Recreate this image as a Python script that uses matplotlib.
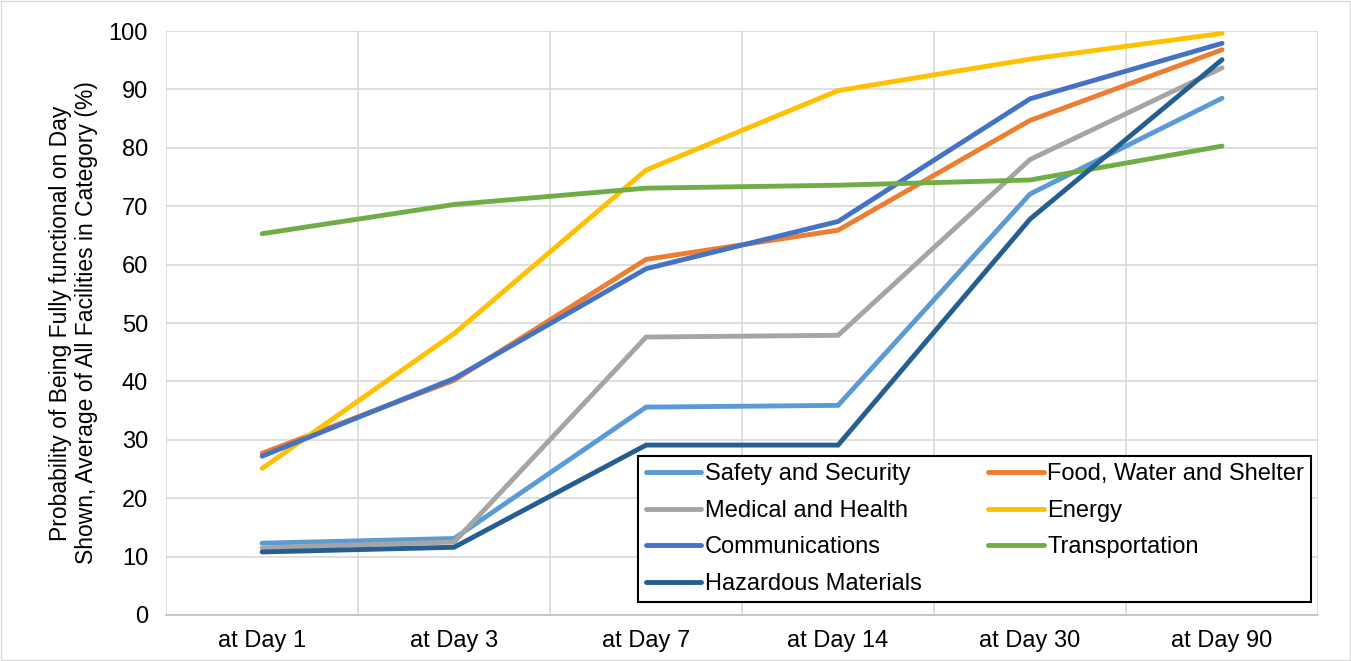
import matplotlib.pyplot as plt
import numpy as np

plt.rcParams['font.family'] = ['Liberation Sans', 'DejaVu Sans']

days = ['at Day 1', 'at Day 3', 'at Day 7', 'at Day 14', 'at Day 30', 'at Day 90']

safety = [12.3, 13.1, 35.6, 35.9, 72.1, 88.5]
food = [27.7, 40.2, 60.9, 65.9, 84.7, 96.8]
medical = [11.5, 12.5, 47.6, 47.9, 78.0, 93.7]
energy = [25.1, 48.2, 76.2, 89.8, 95.2, 99.6]
comms = [27.2, 40.5, 59.3, 67.4, 88.4, 97.9]
transport = [65.3, 70.3, 73.1, 73.6, 74.5, 80.3]
hazmat = [10.8, 11.6, 29.1, 29.1, 67.8, 95.1]

series = [
    ('Safety and Security', safety, '#5B9BD5'),
    ('Food, Water and Shelter', food, '#ED7D31'),
    ('Medical and Health', medical, '#A5A5A5'),
    ('Energy', energy, '#FFC000'),
    ('Communications', comms, '#4472C4'),
    ('Transportation', transport, '#70AD47'),
    ('Hazardous Materials', hazmat, '#255E91'),
]

fig = plt.figure(figsize=(13.51, 6.61), dpi=100)
ax = fig.add_axes([0.123, 0.0696, 0.8526, 0.8834])

x = np.arange(len(days))
lines = {}
for name, vals, col in series:
    ln, = ax.plot(x, vals, color=col, linewidth=3.5, solid_capstyle='round',
                  solid_joinstyle='miter', label=name)
    lines[name] = ln

ax.set_xlim(-0.5, len(days) - 0.5)
ax.set_ylim(0, 100)
ax.set_yticks(np.arange(0, 101, 10))
ax.set_xticks(x)
ax.set_xticklabels(days)
ax.set_xticks(np.arange(-0.5, len(days), 1), minor=True)
ax.tick_params(axis='both', which='both', length=0, labelsize=17)
ax.tick_params(axis='y', pad=13)
ax.tick_params(axis='x', pad=11)
ax.grid(True, axis='y', color='#D9D9D9', linewidth=1.2)
ax.grid(True, axis='x', which='minor', color='#D9D9D9', linewidth=1.2)
ax.set_axisbelow(True)
for s in ['top', 'right', 'left']:
    ax.spines[s].set_visible(False)
ax.spines['bottom'].set_color('#BFBFBF')
ax.spines['bottom'].set_linewidth(1.2)

ax.set_ylabel('Probability of Being Fully functional on Day\nShown, Average of All Facilities in Category (%)',
              fontsize=16.5, labelpad=8, linespacing=1.15)

order = ['Safety and Security', 'Medical and Health', 'Communications', 'Hazardous Materials',
         'Food, Water and Shelter', 'Energy', 'Transportation']
leg = ax.legend([lines[n] for n in order], order, ncol=2, loc='lower left',
                bbox_to_anchor=(0.41, 0.022, 0.584, 0.247), mode='expand',
                fontsize=17, frameon=True, fancybox=False, framealpha=1,
                edgecolor='black', handlelength=2.35, handletextpad=0.15,
                borderaxespad=0, borderpad=0.3, labelspacing=0.62, columnspacing=0.5)
leg.get_frame().set_linewidth(1.5)

fig.patches.append(plt.Rectangle((0.001, 0.001), 0.998, 0.998, transform=fig.transFigure,
                                 fill=False, edgecolor='#D9D9D9', linewidth=1))

fig.savefig('out.png', dpi=100)
